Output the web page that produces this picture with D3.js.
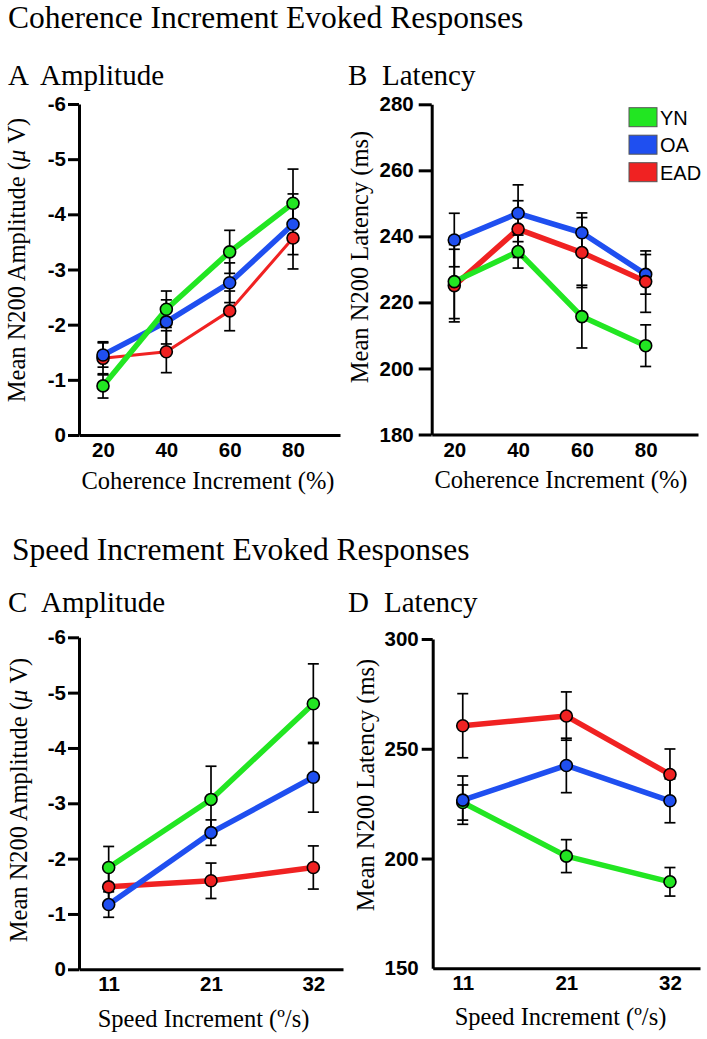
<!DOCTYPE html>
<html>
<head>
<meta charset="utf-8">
<script src="https://cdn.jsdelivr.net/npm/d3@7"></script>
<style>
  html, body { margin: 0; padding: 0; background: #fff; }
  svg { display: block; }
  .serif { font-family: "Liberation Serif", "Times New Roman", serif; fill: #000; }
  .tick text { font-family: "Liberation Sans", Arial, sans-serif; font-weight: bold; font-size: 20.5px; fill: #000; }
</style>
</head>
<body>
<script>
// ---------------- DATA ----------------
const groups = ["YN", "OA", "EAD"];
const coherenceLevels = [20, 40, 60, 80];
const speedLevels = ["11", "21", "32"];

// A: coherence amplitude (µV)
const cohAmpYN = [-0.89, -2.28, -3.32, -4.20];
const cohAmpYNErr = [0.22, 0.33, 0.39, 0.62];
const cohAmpOA = [-1.45, -2.05, -2.76, -3.82];
const cohAmpOAErr = [0.22, 0.40, 0.36, 0.55];
const cohAmpEAD = [-1.39, -1.51, -2.25, -3.57];
const cohAmpEADErr = [0.30, 0.38, 0.36, 0.56];

// B: coherence latency (ms)
const cohLatYN = [226.3, 235.4, 215.7, 206.9];
const cohLatYNErr = [11.2, 5.0, 9.5, 6.3];
const cohLatOA = [238.9, 247.0, 241.1, 228.5];
const cohLatOAErr = [8.1, 8.6, 6.0, 6.0];
const cohLatEAD = [225.1, 242.2, 235.1, 226.3];
const cohLatEADErr = [11.0, 8.6, 10.6, 9.3];

// C: speed amplitude (µV)
const spdAmpYN = [-1.84, -3.07, -4.80];
const spdAmpYNErr = [0.38, 0.60, 0.72];
const spdAmpOA = [-1.17, -2.47, -3.47];
const spdAmpOAErr = [0.23, 0.23, 0.63];
const spdAmpEAD = [-1.49, -1.60, -1.84];
const spdAmpEADErr = [0.30, 0.32, 0.39];

// D: speed latency (ms)
const spdLatYN = [225.5, 201.1, 189.4];
const spdLatYNErr = [8.0, 7.5, 6.5];
const spdLatOA = [226.6, 242.4, 226.3];
const spdLatOAErr = [11.0, 12.4, 10.0];
const spdLatEAD = [260.5, 264.9, 238.3];
const spdLatEADErr = [14.6, 11.0, 11.6];

// tick values
const ampTicks = [0, -1, -2, -3, -4, -5, -6];
const cohLatTicks = [180, 200, 220, 240, 260, 280];
const spdLatTicks = [150, 200, 250, 300];

// ---------------- STYLE ----------------
const colors = { YN: "#22e622", OA: "#1f4ff0", EAD: "#f02222" };

const W = 707, H = 1039;
const svg = d3.select("body").append("svg").attr("width", W).attr("height", H);
svg.append("rect").attr("width", W).attr("height", H).attr("fill", "#fff");

// Section titles
svg.append("text").attr("class", "serif").attr("x", 8).attr("y", 28)
  .style("font-size", "31.5px").text("Coherence Increment Evoked Responses");
svg.append("text").attr("class", "serif").attr("x", 12).attr("y", 560)
  .style("font-size", "31.5px").text("Speed Increment Evoked Responses");

function panelLabel(letter, name, xL, xN, y) {
  svg.append("text").attr("class", "serif").attr("x", xL).attr("y", y).style("font-size", "29px").text(letter);
  svg.append("text").attr("class", "serif").attr("x", xN).attr("y", y).style("font-size", "29px").text(name);
}
panelLabel("A", "Amplitude", 8, 40, 85);
panelLabel("B", "Latency", 348, 382, 85);
panelLabel("C", "Amplitude", 8, 41, 612);
panelLabel("D", "Latency", 348, 384, 612);

function drawPanel(cfg) {
  const g = svg.append("g");
  const y = d3.scaleLinear().domain(cfg.yDomain).range(cfg.yRange);
  const x = cfg.x;

  const line = d3.line().x((d) => x(d.c)).y((d) => y(d.v));
  const seriesData = cfg.series.map((s) => ({
    name: s.name,
    width: s.width,
    pts: cfg.cats.map((c, i) => ({ c: c, v: s.vals[i], e: s.errs[i] }))
  }));
  const order = cfg.order.map((n) => seriesData.find((s) => s.name === n));

  order.forEach((s) => {
    g.append("path").datum(s.pts).attr("d", line)
      .attr("fill", "none").attr("stroke", colors[s.name])
      .attr("stroke-width", s.width).attr("stroke-linejoin", "round");
  });
  order.forEach((s) => {
    const eb = g.append("g").attr("stroke", "#000").attr("stroke-width", 1.7);
    s.pts.forEach((p) => {
      const cx = x(p.c);
      const y1 = y(p.v - p.e), y2 = y(p.v + p.e);
      eb.append("line").attr("x1", cx).attr("x2", cx).attr("y1", y1).attr("y2", y2);
      eb.append("line").attr("x1", cx - 5.5).attr("x2", cx + 5.5).attr("y1", y1).attr("y2", y1);
      eb.append("line").attr("x1", cx - 5.5).attr("x2", cx + 5.5).attr("y1", y2).attr("y2", y2);
    });
  });
  order.forEach((s) => {
    g.selectAll(null).data(s.pts).enter().append("circle")
      .attr("cx", (d) => x(d.c)).attr("cy", (d) => y(d.v)).attr("r", 6)
      .attr("fill", colors[s.name]).attr("stroke", "#000").attr("stroke-width", 1.6);
  });

  const yAxis = d3.axisLeft(y).tickValues(cfg.yTicks).tickSize(cfg.tickLen)
    .tickSizeOuter(0).tickPadding(cfg.tickPad).tickFormat((d) => String(d));
  const ga = g.append("g").attr("transform", `translate(${cfg.axisX},0)`).call(yAxis);
  ga.select(".domain").attr("stroke", "#000").attr("stroke-width", 3);
  ga.selectAll(".tick line").attr("stroke", "#000").attr("stroke-width", 3);
  if (cfg.hideBottomTick) {
    ga.selectAll(".tick").filter((d) => d === cfg.yDomain[0]).select("line").remove();
  }

  const xAxis = d3.axisBottom(x).tickSize(0).tickSizeOuter(0).tickPadding(7.5);
  if (cfg.xTicks) xAxis.tickValues(cfg.xTicks);
  const gx = g.append("g").attr("transform", `translate(0,${cfg.yRange[0]})`).call(xAxis);
  gx.select(".domain").attr("stroke", "#000").attr("stroke-width", 3);

  svg.append("text").attr("class", "serif").attr("text-anchor", "middle")
    .attr("x", cfg.xTitlePos[0]).attr("y", cfg.xTitlePos[1])
    .style("font-size", "24.5px").text(cfg.xTitle);
  const yt = svg.append("text").attr("class", "serif").attr("text-anchor", "middle")
    .attr("transform", `translate(${cfg.yTitlePos[0]},${cfg.yTitlePos[1]}) rotate(-90)`)
    .style("font-size", "24.5px");
  cfg.yTitle.forEach((part) => {
    const t = yt.append("tspan").text(part.t);
    if (part.i) t.style("font-style", "italic");
  });
}

const ampTitle = [{ t: "Mean N200 Amplitude (" }, { t: "\u03BC", i: true }, { t: " V)" }];
const latTitle = [{ t: "Mean N200 Latency (ms)" }];

// Panel A
drawPanel({
  x: d3.scaleLinear().domain([12.42, 94.84]).range([79, 340]),
  cats: coherenceLevels, xTicks: coherenceLevels,
  yDomain: [0, -6], yRange: [435, 104], yTicks: ampTicks,
  axisX: 79, tickLen: 11, tickPad: 2,
  series: [
    { name: "YN", vals: cohAmpYN, errs: cohAmpYNErr, width: 5.5 },
    { name: "OA", vals: cohAmpOA, errs: cohAmpOAErr, width: 5.5 },
    { name: "EAD", vals: cohAmpEAD, errs: cohAmpEADErr, width: 3 }
  ],
  order: ["EAD", "OA", "YN"],
  xTitle: "Coherence Increment (%)", xTitlePos: [208, 489],
  yTitle: ampTitle, yTitlePos: [25, 260]
});

// Panel B
drawPanel({
  x: d3.scaleLinear().domain([12.92, 96.4]).range([431.7, 698]),
  cats: coherenceLevels, xTicks: coherenceLevels,
  yDomain: [180, 280], yRange: [434.5, 104.3], yTicks: cohLatTicks,
  axisX: 431.7, tickLen: 13, tickPad: 5,
  series: [
    { name: "YN", vals: cohLatYN, errs: cohLatYNErr, width: 5.5 },
    { name: "OA", vals: cohLatOA, errs: cohLatOAErr, width: 5.5 },
    { name: "EAD", vals: cohLatEAD, errs: cohLatEADErr, width: 5.5 }
  ],
  order: ["OA", "EAD", "YN"],
  xTitle: "Coherence Increment (%)", xTitlePos: [561, 488],
  yTitle: latTitle, yTitlePos: [368, 257]
});

// Panel C
drawPanel({
  x: d3.scalePoint().domain(speedLevels).range([79, 343]).padding(0.29),
  cats: speedLevels,
  yDomain: [0, -6], yRange: [969.3, 637.3], yTicks: ampTicks,
  axisX: 79, tickLen: 11, tickPad: 2,
  series: [
    { name: "YN", vals: spdAmpYN, errs: spdAmpYNErr, width: 5.5 },
    { name: "OA", vals: spdAmpOA, errs: spdAmpOAErr, width: 5.5 },
    { name: "EAD", vals: spdAmpEAD, errs: spdAmpEADErr, width: 5.5 }
  ],
  order: ["EAD", "OA", "YN"],
  xTitle: "Speed Increment (\u00BA/s)", xTitlePos: [203.5, 1026.5],
  yTitle: ampTitle, yTitlePos: [27, 800]
});

// Panel D
drawPanel({
  x: d3.scalePoint().domain(speedLevels).range([432.7, 700]).padding(0.29),
  cats: speedLevels,
  yDomain: [150, 300], yRange: [968.3, 639], yTicks: spdLatTicks,
  axisX: 432.7, tickLen: 11, tickPad: 3, hideBottomTick: true,
  series: [
    { name: "YN", vals: spdLatYN, errs: spdLatYNErr, width: 5.5 },
    { name: "OA", vals: spdLatOA, errs: spdLatOAErr, width: 5.5 },
    { name: "EAD", vals: spdLatEAD, errs: spdLatEADErr, width: 5.5 }
  ],
  order: ["YN", "EAD", "OA"],
  xTitle: "Speed Increment (\u00BA/s)", xTitlePos: [560.5, 1025],
  yTitle: latTitle, yTitlePos: [374, 785]
});

// Legend (panel B)
const legend = svg.append("g").attr("transform", "translate(629,107.7)");
groups.forEach((gname, i) => {
  const row = legend.append("g").attr("transform", `translate(0,${i * 27.5})`);
  row.append("rect").attr("width", 28).attr("height", 19)
    .attr("fill", colors[gname]).attr("stroke", "#555").attr("stroke-width", 1);
  row.append("text").attr("x", 31).attr("y", 17)
    .style("font-family", "'Liberation Sans', Arial, sans-serif").style("font-size", "20px")
    .text(gname);
});
</script>
</body>
</html>
